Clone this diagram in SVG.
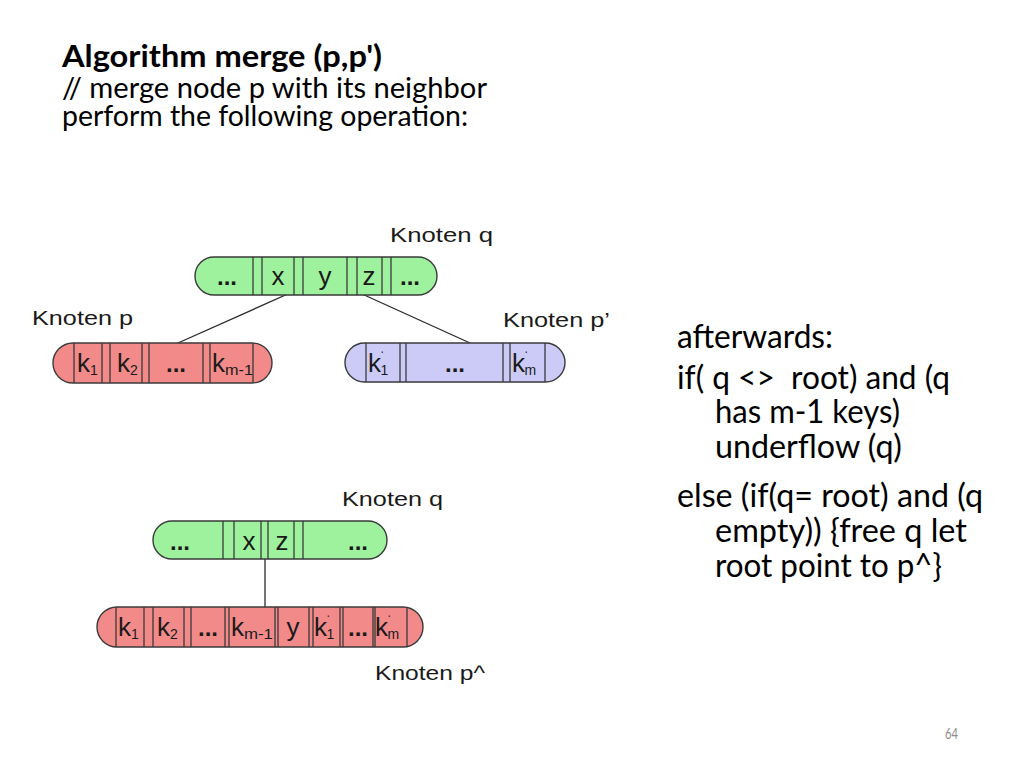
<svg xmlns="http://www.w3.org/2000/svg" width="1024" height="768" viewBox="0 0 1024 768">
<style>
  .bg { fill: #ffffff; }
  .slide { font-family: Lato, "Open Sans", "Liberation Sans", sans-serif; fill: #000000; }
  .title { font-size: 30px; font-weight: bold; }
  .body { font-size: 29px; }
  .right { font-size: 32px; }
  .pnum { font-family: Lato, "Liberation Sans", sans-serif; font-size: 15px; fill: #8c8c8c; }
  .label { font-family: "Liberation Sans", Arial, sans-serif; font-size: 21px; fill: #1a1a1a; }
  .cell { font-family: "Liberation Sans", Arial, sans-serif; font-size: 26px; fill: #1a1a1a; }
  .dots { font-family: "Liberation Sans", Arial, sans-serif; font-size: 24px; font-weight: bold; fill: #1a1a1a; text-anchor: middle; }
  .mid { text-anchor: middle; }
  .sub { font-size: 14px; }
  .tick { font-size: 11px; }
  .green { fill: #9ef29e; stroke: #3a3a3a; stroke-width: 1.4; }
  .red { fill: #f28a8a; stroke: #3a3a3a; stroke-width: 1.4; }
  .blue { fill: #cccbf8; stroke: #3a3a3a; stroke-width: 1.4; }
  .div { stroke: #3a3a3a; stroke-width: 1.3; fill: none; }
  .conn { stroke: #2a2a2a; stroke-width: 1.3; fill: none; }
</style>
<rect class="bg" x="0" y="0" width="1024" height="768"/>

<g id="text-left" class="slide">
  <text class="title" x="62" y="67" textLength="320" lengthAdjust="spacingAndGlyphs">Algorithm merge (p,p')</text>
  <text class="body" x="62" y="98" textLength="425" lengthAdjust="spacingAndGlyphs">// merge node p with its neighbor</text>
  <text class="body" x="62" y="126" textLength="406" lengthAdjust="spacingAndGlyphs">perform the following operation:</text>
</g>

<g id="text-right" class="slide right">
  <text x="677" y="348" textLength="156" lengthAdjust="spacingAndGlyphs">afterwards:</text>
  <text x="677" y="389" xml:space="preserve" textLength="273" lengthAdjust="spacingAndGlyphs">if( q &lt;&gt;  root) and (q</text>
  <text x="715" y="423" textLength="185" lengthAdjust="spacingAndGlyphs">has m-1 keys)</text>
  <text x="715" y="458" textLength="187" lengthAdjust="spacingAndGlyphs">underflow (q)</text>
  <text x="677" y="507" textLength="306" lengthAdjust="spacingAndGlyphs">else (if(q= root) and (q</text>
  <text x="715" y="542" textLength="252" lengthAdjust="spacingAndGlyphs">empty)) {free q let</text>
  <text x="715" y="577" textLength="227" lengthAdjust="spacingAndGlyphs">root point to p^}</text>
</g>

<text id="page-number" class="pnum" x="945" y="739" textLength="13" lengthAdjust="spacingAndGlyphs">64</text>

<g id="connectors">
  <line class="conn" x1="299" y1="289" x2="178" y2="343"/>
  <line class="conn" x1="351" y1="289" x2="470" y2="343"/>
  <line class="conn" x1="265" y1="559" x2="265" y2="607"/>
</g>

<g id="node-q-top">
  <rect class="green" x="195" y="257" width="242" height="38" rx="19"/>
  <path class="div" d="M253 257V295M262 257V295M294 257V295M303 257V295M347 257V295M357 257V295M382 257V295M391 257V295"/>
  <text class="dots" x="227" y="285">...</text>
  <text class="cell mid" x="278" y="285">x</text>
  <text class="cell mid" x="325" y="285">y</text>
  <text class="cell mid" x="369" y="285">z</text>
  <text class="dots" x="410" y="285">...</text>
  <text class="label" x="390" y="242" textLength="103" lengthAdjust="spacingAndGlyphs">Knoten q</text>
</g>

<g id="node-p">
  <rect class="red" x="53" y="343" width="219" height="40" rx="20"/>
  <path class="div" d="M74 343V383M102 343V383M110 343V383M142 343V383M149 343V383M203 343V383M210 343V383M253 343V383"/>
  <text class="cell" x="77" y="372">k<tspan class="sub" dy="3">1</tspan></text>
  <text class="cell" x="117" y="372">k<tspan class="sub" dy="3">2</tspan></text>
  <text class="dots" x="176" y="372">...</text>
  <text class="cell" x="212" y="372">k<tspan class="sub" dy="3" textLength="28" lengthAdjust="spacingAndGlyphs">m-1</tspan></text>
  <text class="label" x="32" y="325" textLength="101" lengthAdjust="spacingAndGlyphs">Knoten p</text>
</g>

<g id="node-p-prime">
  <rect class="blue" x="345" y="343" width="220" height="39" rx="19.5"/>
  <path class="div" d="M366 343V382M400 343V382M406 343V382M503 343V382M510 343V382M545 343V382"/>
  <text class="cell" x="368" y="372">k<tspan class="tick" dy="-13">‘</tspan><tspan class="sub" dx="-3" dy="16">1</tspan></text>
  <text class="dots" x="455" y="372">...</text>
  <text class="cell" x="512" y="372">k<tspan class="tick" dy="-13">‘</tspan><tspan class="sub" dx="-3" dy="16">m</tspan></text>
  <text class="label" x="503" y="327" textLength="107" lengthAdjust="spacingAndGlyphs">Knoten p’</text>
</g>

<g id="node-q-bottom">
  <rect class="green" x="153" y="521" width="234" height="38" rx="19"/>
  <path class="div" d="M223 521V559M234 521V559M261 521V559M268 521V559M294 521V559M303 521V559"/>
  <text class="dots" x="180" y="550">...</text>
  <text class="cell mid" x="249" y="550">x</text>
  <text class="cell mid" x="282" y="550">z</text>
  <text class="dots" x="358" y="550">...</text>
  <text class="label" x="342" y="506" textLength="101" lengthAdjust="spacingAndGlyphs">Knoten q</text>
</g>

<g id="node-p-hat">
  <rect class="red" x="97" y="607" width="326" height="40" rx="20"/>
  <path class="div" d="M116 607V647M144 607V647M153 607V647M184 607V647M191 607V647M225 607V647M229 607V647M275 607V647M278 607V647M309 607V647M313 607V647M340 607V647M343 607V647M373 607V647M375 607V647M407 607V647"/>
  <text class="cell" x="118" y="636">k<tspan class="sub" dy="3">1</tspan></text>
  <text class="cell" x="157" y="636">k<tspan class="sub" dy="3">2</tspan></text>
  <text class="dots" x="208" y="636">...</text>
  <text class="cell" x="231" y="636">k<tspan class="sub" dy="3" textLength="29" lengthAdjust="spacingAndGlyphs">m-1</tspan></text>
  <text class="cell mid" x="293" y="636">y</text>
  <text class="cell" x="314" y="636">k<tspan class="tick" dy="-13">‘</tspan><tspan class="sub" dx="-3" dy="16">1</tspan></text>
  <text class="dots" x="358" y="636">...</text>
  <text class="cell" x="375" y="636">k<tspan class="tick" dy="-13">‘</tspan><tspan class="sub" dx="-3" dy="16">m</tspan></text>
  <text class="label" x="375" y="680" textLength="110" lengthAdjust="spacingAndGlyphs">Knoten p^</text>
</g>
</svg>
